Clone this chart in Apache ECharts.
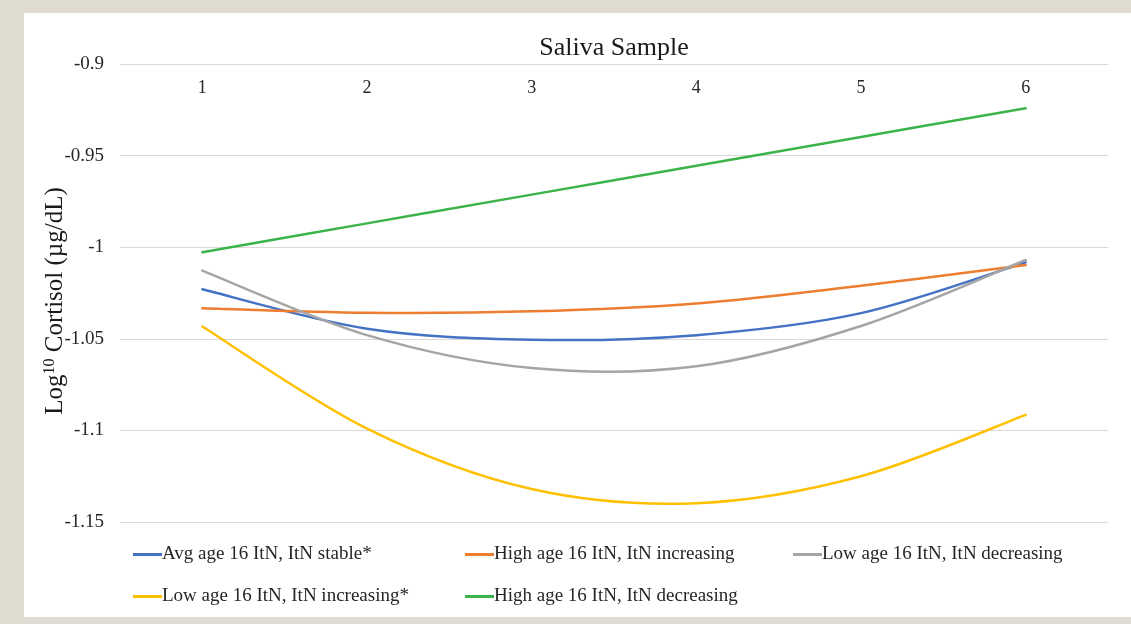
<!DOCTYPE html>
<html>
<head>
<meta charset="utf-8">
<script src="https://cdn.jsdelivr.net/npm/echarts@6/dist/echarts.min.js"></script>
<style>
html,body{margin:0;padding:0;background:#dfdbd0;}
#wrap{position:absolute;left:24px;top:13px;width:1107px;height:604px;background:#fff;}
#chart{position:absolute;left:-24px;top:-13px;width:1131px;height:624px;}
</style>
</head>
<body>
<div id="wrap"><div id="chart"></div></div>
<script>
const categories = ['1','2','3','4','5','6'];
const seriesNames = [
  'Avg age 16 ItN, ItN stable*',
  'High age 16 ItN, ItN increasing',
  'Low age 16 ItN, ItN decreasing',
  'Low age 16 ItN, ItN increasing*',
  'High age 16 ItN, ItN decreasing'
];
const avgStable = [-1.023, -1.0445, -1.0505, -1.048, -1.036, -1.0083];
const highIncreasing = [-1.0333, -1.0358, -1.035, -1.0307, -1.021, -1.0097];
const lowDecreasing = [-1.0128, -1.048, -1.066, -1.065, -1.043, -1.007];
const lowIncreasing = [-1.0433, -1.099, -1.132, -1.1397, -1.125, -1.0915];
const highDecreasing = [-1.0027, -0.987, -0.9713, -0.9555, -0.9398, -0.9242];
const colors = ['#4472c4', '#ed7d31', '#a5a5a5', '#ffc000', '#3cb34a'];
const yTicks = [-1.15, -1.1, -1.05, -1, -0.95, -0.9];

const font = '"Liberation Serif", "Times New Roman", serif';
const chart = echarts.init(document.getElementById('chart'), null, {renderer: 'canvas'});
const dataSets = [avgStable, highIncreasing, lowDecreasing, lowIncreasing, highDecreasing];

// Smoothed line (Excel-like Catmull-Rom Bezier) through the data points, positioned via api.coord
function makeRenderItem(color) {
  return function (params, api) {
    if (params.dataIndex !== 0) return null;
    const n = params.dataInsideLength;
    const pts = [];
    for (let i = 0; i < n; i++) pts.push(api.coord([api.value(0, i), api.value(1, i)]));
    let d = 'M' + pts[0][0] + ',' + pts[0][1];
    for (let i = 0; i < n - 1; i++) {
      const p0 = pts[Math.max(i - 1, 0)], p1 = pts[i], p2 = pts[i + 1], p3 = pts[Math.min(i + 2, n - 1)];
      const c1x = p1[0] + (p2[0] - p0[0]) / 6, c1y = p1[1] + (p2[1] - p0[1]) / 6;
      const c2x = p2[0] - (p3[0] - p1[0]) / 6, c2y = p2[1] - (p3[1] - p1[1]) / 6;
      d += ' C' + c1x + ',' + c1y + ' ' + c2x + ',' + c2y + ' ' + p2[0] + ',' + p2[1];
    }
    return {type: 'path', silent: true, shape: {pathData: d},
      style: {fill: 'none', stroke: color, lineWidth: 2.5, lineCap: 'round'}};
  };
}

const legendBase = {
  orient: 'vertical', itemWidth: 29, itemHeight: 3, itemGap: 23, icon: 'rect', padding: 0,
  textStyle: {fontFamily: font, fontSize: 19, color: '#262626', padding: [0, 0, 0, -5]}
};

chart.setOption({
  backgroundColor: 'transparent',
  animation: false,
  color: colors,
  grid: {left: 120, right: 23, top: 64, bottom: 102},
  legend: [
    Object.assign({}, legendBase, {left: 133, top: 545, data: [seriesNames[0], seriesNames[3]]}),
    Object.assign({}, legendBase, {left: 465, top: 545, data: [seriesNames[1], seriesNames[4]]}),
    Object.assign({}, legendBase, {left: 793, top: 545, data: [seriesNames[2]]})
  ],
  xAxis: {
    type: 'category', position: 'top', data: categories, boundaryGap: true,
    axisLine: {show: false}, axisTick: {show: false},
    axisLabel: {inside: true, margin: 15, fontFamily: font, fontSize: 18, color: '#262626'},
    name: 'Saliva Sample', nameLocation: 'middle', nameGap: 3, nameMoveOverlap: false,
    nameTextStyle: {fontFamily: font, fontSize: 26, color: '#1a1a1a'}
  },
  yAxis: {
    type: 'value', min: -1.15, max: -0.9, interval: 0.05,
    axisLine: {show: false}, axisTick: {show: false},
    splitLine: {lineStyle: {color: '#d9d9d9', width: 1}},
    axisLabel: {margin: 16, fontFamily: font, fontSize: 19, color: '#262626',
      formatter: v => {
        const t = yTicks.find(x => Math.abs(x - v) < 1e-9);
        return String(t !== undefined ? t : v);
      }},
    name: '{a|Log}{s|10}{a| Cortisol (µg/dL)}', nameLocation: 'middle', nameGap: 52, nameRotate: 90,
    nameMoveOverlap: false,
    nameTextStyle: {
      padding: [0, 16, 0, 0],
      rich: {
        a: {fontFamily: font, fontSize: 25, color: '#1a1a1a'},
        s: {fontFamily: font, fontSize: 16, color: '#1a1a1a', verticalAlign: 'top', padding: [0, 0, 10, 0]}
      }
    }
  },
  series: dataSets.map((d, i) => ({
    name: seriesNames[i], type: 'custom',
    data: d.map((v, k) => [categories[k], v]),
    encode: {x: 0, y: 1},
    itemStyle: {color: colors[i]},
    renderItem: makeRenderItem(colors[i])
  }))
});
</script>
</body>
</html>
